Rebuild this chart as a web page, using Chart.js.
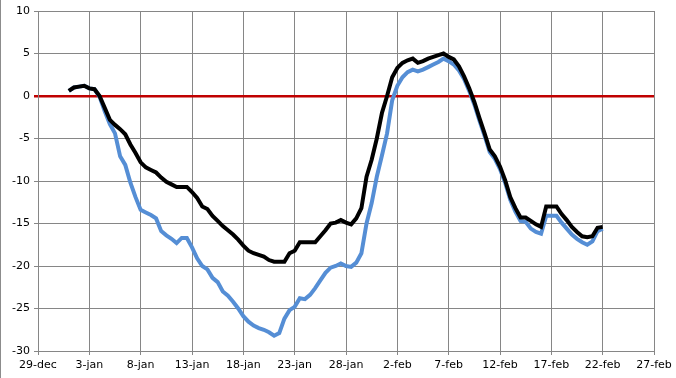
<!DOCTYPE html>
<html>
<head>
<meta charset="utf-8">
<script src="https://cdn.jsdelivr.net/npm/chart.js@4"></script>
<style>
html,body{margin:0;padding:0;background:#fff;}
canvas{display:block;}
</style>
</head>
<body>
<canvas id="c" width="676" height="378"></canvas>
<script>
// Day offsets from 29-dec (0 = 29-dec), half-day sampling from 1-jan to 22-feb
const days = [3,3.5,4,4.5,5,5.5,6,6.5,7,7.5,8,8.5,9,9.5,10,10.5,11,11.5,12,12.5,13,13.5,14,14.5,15,15.5,16,16.5,17,17.5,18,18.5,19,19.5,20,20.5,21,21.5,22,22.5,23,23.5,24,24.5,25,25.5,26,26.5,27,27.5,28,28.5,29,29.5,30,30.5,31,31.5,32,32.5,33,33.5,34,34.5,35,35.5,36,36.5,37,37.5,38,38.5,39,39.5,40,40.5,41,41.5,42,42.5,43,43.5,44,44.5,45,45.5,46,46.5,47,47.5,48,48.5,49,49.5,50,50.5,51,51.5,52,52.5,53,53.5,54,54.5,55];

const blackSeries = [0.6,1.0,1.1,1.2,0.9,0.8,0.0,-1.4,-2.8,-3.4,-3.9,-4.5,-5.7,-6.7,-7.8,-8.4,-8.7,-9.0,-9.6,-10.1,-10.4,-10.7,-10.7,-10.7,-11.3,-12.0,-13.0,-13.3,-14.1,-14.7,-15.3,-15.8,-16.3,-16.9,-17.6,-18.2,-18.5,-18.7,-18.9,-19.3,-19.5,-19.5,-19.5,-18.5,-18.2,-17.2,-17.2,-17.2,-17.2,-16.5,-15.8,-15.0,-14.9,-14.6,-14.9,-15.1,-14.4,-13.2,-9.5,-7.5,-5.0,-2.0,0.0,2.2,3.3,3.9,4.2,4.4,3.9,4.1,4.4,4.6,4.8,5.0,4.6,4.3,3.5,2.3,0.9,-0.7,-2.6,-4.4,-6.3,-7.1,-8.3,-9.9,-11.9,-13.2,-14.3,-14.3,-14.7,-15.1,-15.4,-13.0,-13.0,-13.0,-13.9,-14.6,-15.4,-16.0,-16.5,-16.6,-16.5,-15.5,-15.4];

const blueSeries = [0.6,1.0,1.1,1.2,0.9,0.8,-0.1,-1.8,-3.3,-4.4,-7.1,-8.1,-10.2,-11.9,-13.4,-13.7,-14.0,-14.4,-15.9,-16.4,-16.8,-17.3,-16.7,-16.7,-17.8,-19.1,-20.0,-20.4,-21.4,-21.9,-23.0,-23.5,-24.2,-25.0,-25.9,-26.55,-27.0,-27.3,-27.5,-27.8,-28.2,-27.9,-26.2,-25.2,-24.8,-23.8,-23.9,-23.4,-22.6,-21.7,-20.8,-20.2,-20.0,-19.7,-20.0,-20.1,-19.6,-18.5,-15.0,-12.6,-9.5,-7.0,-4.4,-0.5,1.2,2.2,2.8,3.1,2.9,3.1,3.4,3.7,4.0,4.4,4.1,3.7,3.0,2.0,0.6,-1.0,-2.9,-4.7,-6.6,-7.4,-8.6,-10.2,-12.2,-13.6,-14.7,-14.8,-15.6,-16.0,-16.2,-14.1,-14.1,-14.1,-14.9,-15.6,-16.3,-16.8,-17.2,-17.5,-17.1,-15.9,-15.6];

const xTickLabels = ['29-dec','3-jan','8-jan','13-jan','18-jan','23-jan','28-jan','2-feb','7-feb','12-feb','17-feb','22-feb','27-feb'];
const yTicks = [-30,-25,-20,-15,-10,-5,0,5,10];

const toPts = arr => arr.map((v,i)=>({x:days[i], y:v}));

const leftBorder = {
  id:'leftBorder',
  afterDraw(chart){
    const c = chart.ctx;
    c.save();
    c.strokeStyle = '#8c8c8c';
    c.lineWidth = 1;
    c.beginPath();
    c.moveTo(0.5,0); c.lineTo(0.5,378);
    c.stroke();
    c.restore();
  }
};

new Chart(document.getElementById('c'), {
  type:'line',
  data:{
    datasets:[
      {label:'blue', data:toPts(blueSeries), borderColor:'#558ED5', borderWidth:4, pointRadius:0, tension:0, fill:false, order:2},
      {label:'black', data:toPts(blackSeries), borderColor:'#000000', borderWidth:4, pointRadius:0, tension:0, fill:false, order:1}
    ]
  },
  options:{
    responsive:false,
    animation:false,
    events:[],
    layout:{padding:{top:11,right:22,left:0,bottom:0}},
    plugins:{legend:{display:false},tooltip:{enabled:false}},
    scales:{
      x:{
        type:'linear', min:0, max:60,
        afterFit(s){ s.height = 27; },
        grid:{color:'#868686', lineWidth:1, tickLength:4, drawTicks:true},
        border:{color:'#868686', width:1},
        ticks:{
          stepSize:5, autoSkip:false, maxRotation:0, padding:4,
          color:'#000', font:{family:'DejaVu Sans', size:11},
          callback:(v)=> xTickLabels[Math.round(v/5)] ?? ''
        }
      },
      y:{
        type:'linear', min:-30, max:10,
        afterFit(s){ s.width = 38; },
        afterBuildTicks(s){ s.ticks = yTicks.map(v=>({value:v})); },
        grid:{
          color:(ctx)=> ctx.tick && ctx.tick.value===0 ? '#C00000' : '#868686',
          lineWidth:(ctx)=> ctx.tick && ctx.tick.value===0 ? 2.5 : 1,
          tickLength:4
        },
        border:{color:'#868686', width:1},
        ticks:{color:'#000', padding:4, font:{family:'DejaVu Sans', size:11}}
      }
    }
  },
  plugins:[leftBorder]
});
</script>
</body>
</html>
